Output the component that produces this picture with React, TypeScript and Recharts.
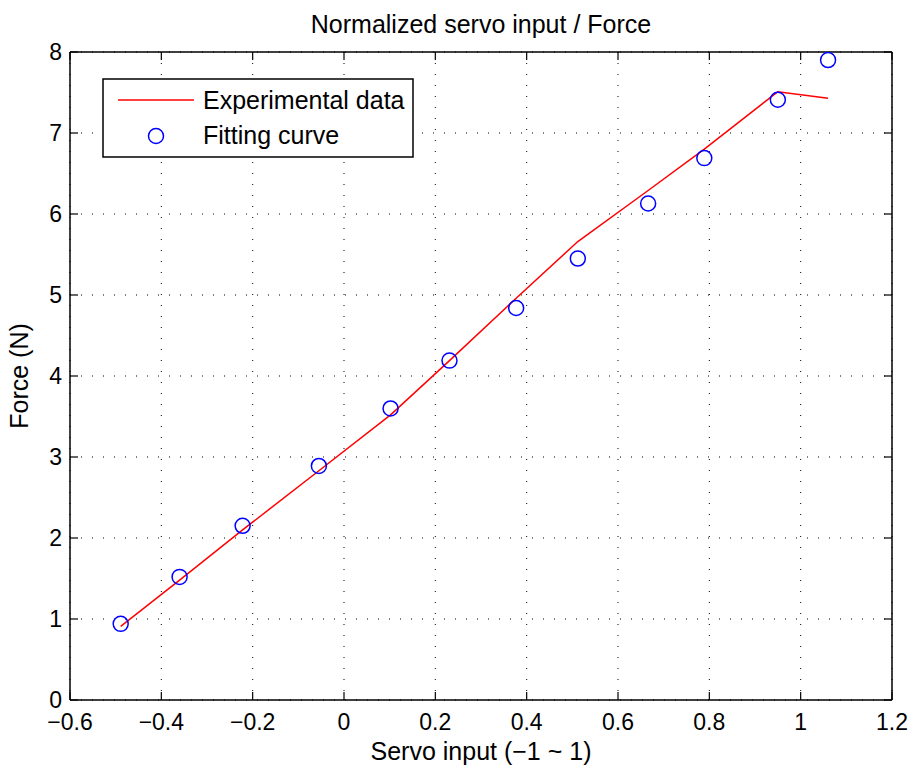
import React from "react";
import { ComposedChart, Line, XAxis, YAxis, CartesianGrid, Legend, Label } from "recharts";

const servoInput = [-0.489, -0.36, -0.222, -0.055, 0.102, 0.231, 0.377, 0.512, 0.666, 0.789, 0.95, 1.06];
const experimentalForce = [0.91, 1.48, 2.1, 2.83, 3.52, 4.19, 4.96, 5.66, 6.29, 6.8, 7.51, 7.43];
const fittingForce = [0.94, 1.52, 2.15, 2.89, 3.6, 4.19, 4.84, 5.45, 6.13, 6.69, 7.41, 7.9];
const xTicks = [-0.6, -0.4, -0.2, 0, 0.2, 0.4, 0.6, 0.8, 1, 1.2];
const yTicks = [0, 1, 2, 3, 4, 5, 6, 7, 8];
const titleText = "Normalized servo input / Force";
const xLabelText = "Servo input (\u22121 ~ 1)";
const yLabelText = "Force (N)";
const seriesNames = ["Experimental data", "Fitting curve"];

const data = servoInput.map((x, i) => ({ x, exp: experimentalForce[i], fit: fittingForce[i] }));

const FONT = "'Liberation Sans', Arial, Helvetica, sans-serif";
const FS = 23;
const LFS = 25;
const TL = 8;
const fmt = (v: number) => {
  const s = String(Math.round(v * 10) / 10);
  return s.replace("-", "\u2212");
};

const BottomTick = (p: any) => {
  const M = 14;
  return (
    <g>
      <line x1={p.x} x2={p.x} y1={p.y - M} y2={p.y - M - TL} stroke="#000" strokeWidth={1.2} />
      <text x={p.x} y={p.y} dy="0.71em" textAnchor="middle" fontFamily={FONT} fontSize={FS} fill="#000">
        {fmt(p.payload.value)}
      </text>
    </g>
  );
};
const LeftTick = (p: any) => {
  const M = 8;
  return (
    <g>
      <line x1={p.x + M} x2={p.x + M + TL} y1={p.y} y2={p.y} stroke="#000" strokeWidth={1.2} />
      <text x={p.x} y={p.y} dy="0.355em" textAnchor="end" fontFamily={FONT} fontSize={FS} fill="#000">
        {fmt(p.payload.value)}
      </text>
    </g>
  );
};
const TopTick = (p: any) => (
  <line x1={p.x} x2={p.x} y1={p.y} y2={p.y + TL} stroke="#000" strokeWidth={1.2} />
);
const RightTick = (p: any) => (
  <line x1={p.x} x2={p.x - TL} y1={p.y} y2={p.y} stroke="#000" strokeWidth={1.2} />
);

const LegendBox = () => (
  <svg width={313} height={81} style={{ display: "block" }}>
    <rect x={1} y={1} width={310} height={78} fill="#fff" stroke="#000" strokeWidth={1.5} />
    <line x1={16} x2={92} y1={22} y2={22} stroke="#ff0000" strokeWidth={1.5} />
    <circle cx={54} cy={58} r={7.5} fill="none" stroke="#0000ff" strokeWidth={1.5} />
    <text x={101} y={31} fontFamily={FONT} fontSize={LFS} fill="#000">{seriesNames[0]}</text>
    <text x={101} y={66} fontFamily={FONT} fontSize={LFS} fill="#000">{seriesNames[1]}</text>
  </svg>
);

export default function App() {
  return (
    <div style={{ position: "absolute", left: 0, top: 0, background: "#fff" }}>
      <ComposedChart width={915} height={769} data={data} margin={{ top: 51, right: 22, bottom: 0, left: 0 }}>
        <CartesianGrid xAxisId="b" yAxisId="l" stroke="#000" strokeDasharray="1 10" strokeWidth={1} />
        <XAxis
          xAxisId="b"
          dataKey="x"
          type="number"
          domain={[-0.6, 1.2]}
          ticks={xTicks}
          allowDataOverflow
          height={69}
          tickSize={0}
          tickMargin={14}
          tick={<BottomTick />}
          tickLine={false}
          axisLine={{ stroke: "#000", strokeWidth: 1.5 }}
          interval={0}
        >
          <Label
            content={(props: any) => {
              const vb = props.viewBox;
              return (
                <text x={vb.x + vb.width / 2} y={760} textAnchor="middle" fontFamily={FONT} fontSize={LFS} fill="#000">
                  {xLabelText}
                </text>
              );
            }}
          />
        </XAxis>
        <XAxis
          xAxisId="t"
          dataKey="x"
          type="number"
          orientation="top"
          domain={[-0.6, 1.2]}
          ticks={xTicks}
          allowDataOverflow
          height={1}
          tickSize={0}
          tickMargin={0}
          tick={<TopTick />}
          tickLine={false}
          axisLine={{ stroke: "#000", strokeWidth: 1.5 }}
          interval={0}
        >
          <Label
            content={(props: any) => {
              const vb = props.viewBox;
              return (
                <text x={vb.x + vb.width / 2} y={33} textAnchor="middle" fontFamily={FONT} fontSize={LFS} fill="#000">
                  {titleText}
                </text>
              );
            }}
          />
        </XAxis>
        <YAxis
          yAxisId="l"
          type="number"
          domain={[0, 8]}
          ticks={yTicks}
          allowDataOverflow
          width={70}
          tickSize={0}
          tickMargin={8}
          tick={<LeftTick />}
          tickLine={false}
          axisLine={{ stroke: "#000", strokeWidth: 1.5 }}
          interval={0}
        >
          <Label
            content={(props: any) => {
              const vb = props.viewBox;
              const cy = vb.y + vb.height / 2;
              return (
                <text x={28} y={cy} transform={`rotate(-90 28 ${cy})`} textAnchor="middle" fontFamily={FONT} fontSize={LFS} fill="#000">
                  {yLabelText}
                </text>
              );
            }}
          />
        </YAxis>
        <YAxis
          yAxisId="r"
          dataKey="exp"
          type="number"
          orientation="right"
          domain={[0, 8]}
          ticks={yTicks}
          allowDataOverflow
          width={1}
          tickSize={0}
          tickMargin={0}
          tick={<RightTick />}
          tickLine={false}
          axisLine={{ stroke: "#000", strokeWidth: 1.5 }}
          interval={0}
        />
        <Line
          xAxisId="b"
          yAxisId="l"
          dataKey="exp"
          name={seriesNames[0]}
          stroke="#ff0000"
          strokeWidth={1.5}
          dot={false}
          activeDot={false}
          isAnimationActive={false}
        />
        <Line
          xAxisId="b"
          yAxisId="l"
          dataKey="fit"
          name={seriesNames[1]}
          stroke="none"
          dot={{ r: 7.5, stroke: "#0000ff", strokeWidth: 1.5, fill: "none" }}
          activeDot={false}
          isAnimationActive={false}
        />
        <Legend
          layout="vertical"
          align="center"
          verticalAlign="middle"
          wrapperStyle={{ left: 102, top: 78, width: 313, height: 81 }}
          content={() => <LegendBox />}
        />
      </ComposedChart>
    </div>
  );
}
